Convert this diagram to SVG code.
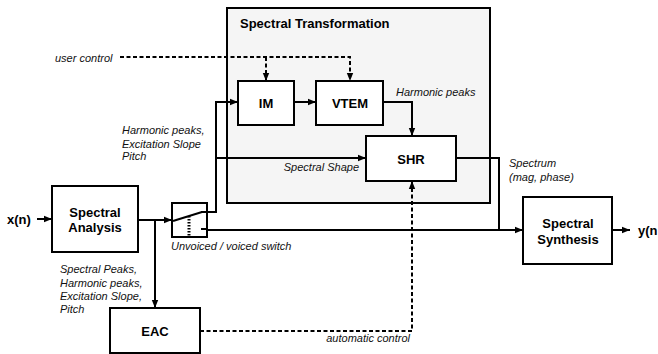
<svg xmlns="http://www.w3.org/2000/svg" width="658" height="354" viewBox="0 0 658 354">
<style>
.box{fill:#fff;stroke:#000;stroke-width:2}
.b{font-family:"Liberation Sans",Arial,sans-serif;font-weight:bold;font-size:13px;fill:#000}
.c{text-anchor:middle}
.i{font-family:"Liberation Sans",Arial,sans-serif;font-style:italic;font-size:11px;fill:#111}
.ln{fill:none;stroke:#000;stroke-width:2}
.ds{fill:none;stroke:#000;stroke-width:2;stroke-dasharray:4,2.5}
</style>
<defs>
<marker id="ah" markerUnits="userSpaceOnUse" markerWidth="8" markerHeight="8" viewBox="0 0 8 8" refX="8" refY="4" orient="auto">
<path d="M0,0.8 L8,4 L0,7.2 Z" fill="#000"/>
</marker>
</defs>
<rect width="658" height="354" fill="#fff"/>
<g id="spectral-transformation">
<rect x="227" y="8" width="263" height="195" fill="#f5f5f5" stroke="#000" stroke-width="2"/>
<text class="b" x="240" y="28">Spectral Transformation</text>
</g>
<g id="im"><rect class="box" x="238" y="81" width="56" height="44"/><text class="b c" x="266" y="108">IM</text></g>
<g id="vtem"><rect class="box" x="316" y="81" width="67" height="44"/><text class="b c" x="350" y="108">VTEM</text></g>
<g id="shr"><rect class="box" x="366" y="136" width="90" height="45"/><text class="b c" x="411" y="164">SHR</text></g>
<g id="spectral-analysis"><rect class="box" x="52" y="186" width="86" height="66"/><text class="b c" x="95" y="217">Spectral</text><text class="b c" x="95" y="232">Analysis</text></g>
<g id="eac"><rect class="box" x="110" y="308" width="90" height="45"/><text class="b c" x="155" y="336">EAC</text></g>
<g id="spectral-synthesis"><rect class="box" x="523" y="197" width="89" height="67"/><text class="b c" x="568" y="228">Spectral</text><text class="b c" x="568" y="244">Synthesis</text></g>
<g id="switch">
<rect class="box" x="172" y="203" width="35" height="34"/>
<path class="ln" d="M173,221 L202,212" stroke-width="1.6"/>
<path class="ln" d="M201,212 H207 M201,229 H207"/>
<path d="M189,216 V236" stroke="#000" stroke-width="3" stroke-dasharray="1.5,1.5" fill="none"/>
</g>
<g id="connectors">
<path class="ln" d="M37,219 H52" marker-end="url(#ah)"/>
<path class="ln" d="M138,220 H172" marker-end="url(#ah)"/>
<path class="ln" d="M155,220 V308" marker-end="url(#ah)"/>
<path class="ln" d="M207,212 H216 V102 H238" marker-end="url(#ah)"/>
<path class="ln" d="M216,158 H366" marker-end="url(#ah)"/>
<path class="ln" d="M294,102 H316" marker-end="url(#ah)"/>
<path class="ln" d="M383,102 H412 V136" marker-end="url(#ah)"/>
<path class="ln" d="M456,158 H499 V230"/>
<path class="ln" d="M207,230 H523" marker-end="url(#ah)"/>
<path class="ln" d="M612,230 H630" marker-end="url(#ah)"/>
<path class="ds" d="M120,57 H350 V81" marker-end="url(#ah)"/>
<path class="ds" d="M266,57 V81" marker-end="url(#ah)"/>
<path class="ds" d="M200,331 H412 V181" marker-end="url(#ah)"/>
</g>
<g id="labels">
<text class="i" x="55" y="62">user control</text>
<text class="i" x="396" y="96">Harmonic peaks</text>
<text class="i" x="359" y="171" text-anchor="end">Spectral Shape</text>
<text class="i" x="122" y="134">Harmonic peaks,</text>
<text class="i" x="122" y="148">Excitation Slope</text>
<text class="i" x="122" y="160">Pitch</text>
<text class="b" x="7" y="224">x(n)</text>
<text class="i" x="171" y="250">Unvoiced / voiced switch</text>
<text class="i" x="60" y="273">Spectral Peaks,</text>
<text class="i" x="60" y="286.5">Harmonic peaks,</text>
<text class="i" x="60" y="300">Excitation Slope,</text>
<text class="i" x="60" y="313">Pitch</text>
<text class="i" x="410" y="342" text-anchor="end">automatic control</text>
<text class="i" x="509" y="167">Spectrum</text>
<text class="i" x="509" y="181">(mag, phase)</text>
<text class="b" x="638" y="235">y(n</text>
</g>
</svg>
